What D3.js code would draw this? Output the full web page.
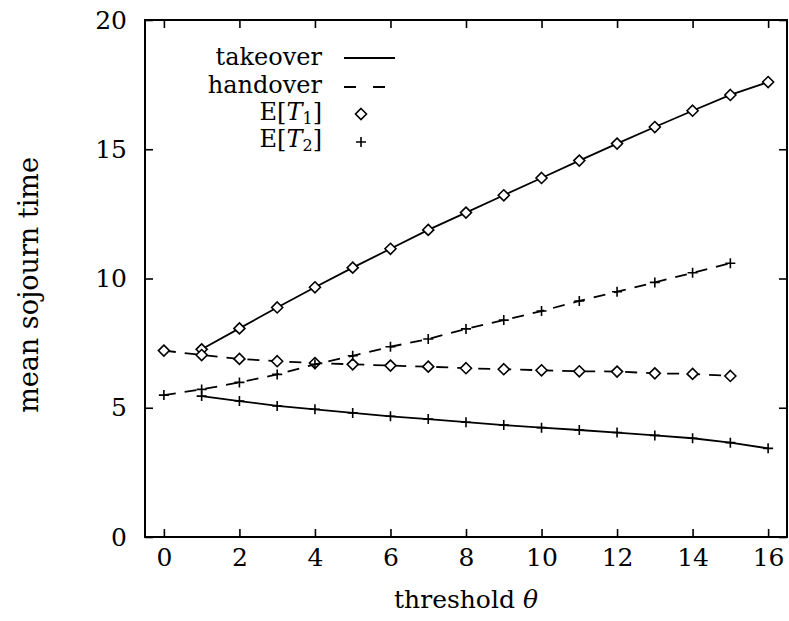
<!DOCTYPE html>
<html>
<head>
<meta charset="utf-8">
<script src="https://cdn.jsdelivr.net/npm/d3@7"></script>
<style>
  body { margin: 0; background: #fff; }
  text { font-family: "DejaVu Serif", "Liberation Serif", serif; fill: #000; }
</style>
</head>
<body>
<svg id="plot"></svg>
<script>
// threshold values
var thetaHandover = [0, 1, 2, 3, 4, 5, 6, 7, 8, 9, 10, 11, 12, 13, 14, 15];
var thetaTakeover = [1, 2, 3, 4, 5, 6, 7, 8, 9, 10, 11, 12, 13, 14, 15, 16];

// mean sojourn times
var takeoverT1 = [7.26, 8.07, 8.88, 9.66, 10.42, 11.15, 11.88, 12.55, 13.22, 13.89, 14.56, 15.22, 15.86, 16.49, 17.10, 17.60];
var takeoverT2 = [5.45, 5.26, 5.07, 4.94, 4.80, 4.67, 4.56, 4.44, 4.33, 4.23, 4.14, 4.04, 3.93, 3.82, 3.65, 3.43];
var handoverT1 = [7.21, 7.04, 6.89, 6.80, 6.73, 6.68, 6.63, 6.59, 6.53, 6.49, 6.45, 6.41, 6.40, 6.33, 6.31, 6.23];
var handoverT2 = [5.49, 5.71, 5.98, 6.29, 6.68, 7.01, 7.36, 7.66, 8.05, 8.39, 8.74, 9.13, 9.49, 9.85, 10.22, 10.59];

var xTicks = [0, 2, 4, 6, 8, 10, 12, 14, 16];
var yTicks = [0, 5, 10, 15, 20];

var W = 789, H = 621;
var margin = {top: 20, right: 2, bottom: 84, left: 145},
  width = W - margin.left - margin.right,
  height = H - margin.top - margin.bottom;

var svg = d3.select("#plot").attr("width", W).attr("height", H);
var g = svg.append("g")
  .attr("transform", "translate(" + margin.left + "," + margin.top + ")");

var x = d3.scaleLinear().domain([-0.5, 16.5]).range([0, width]);
var y = d3.scaleLinear().domain([0, 20]).range([height, 0]);

// axes, ticks pointing inward and mirrored
g.append("g")
  .attr("transform", "translate(0," + height + ")")
  .call(d3.axisBottom(x).tickValues(xTicks).tickSizeInner(-8).tickSizeOuter(0).tickPadding(11));
g.append("g")
  .call(d3.axisTop(x).tickValues(xTicks).tickSizeInner(-8).tickSizeOuter(0).tickFormat(""));
g.append("g")
  .call(d3.axisLeft(y).tickValues(yTicks).tickSizeInner(-8).tickSizeOuter(0).tickPadding(18));
g.append("g")
  .attr("transform", "translate(" + width + ",0)")
  .call(d3.axisRight(y).tickValues(yTicks).tickSizeInner(-8).tickSizeOuter(0).tickFormat(""));

g.selectAll(".domain").remove();
g.selectAll(".tick line").attr("stroke", "#000").attr("stroke-width", 1.6);
g.selectAll(".tick text").attr("font-size", 25).attr("font-family", "DejaVu Serif");

// frame
g.append("rect")
  .attr("width", width).attr("height", height)
  .attr("fill", "none").attr("stroke", "#000").attr("stroke-width", 2);

// axis titles
svg.append("text")
  .attr("x", margin.left + width / 2).attr("y", 608)
  .attr("text-anchor", "middle").attr("font-size", 25)
  .text("threshold ")
  .append("tspan").attr("font-style", "italic").text("θ");

svg.append("text")
  .attr("transform", "translate(38,285) rotate(-90)")
  .attr("text-anchor", "middle").attr("font-size", 27)
  .text("mean sojourn time");

var line = d3.line()
  .x(function(d){ return x(d[0]) })
  .y(function(d){ return y(d[1]) });

function pairs(xs, ys) { return xs.map(function(v, i){ return [v, ys[i]] }) }

var series = [
  {pts: pairs(thetaTakeover, takeoverT1), dash: null, mark: "diamond"},
  {pts: pairs(thetaTakeover, takeoverT2), dash: null, mark: "plus"},
  {pts: pairs(thetaHandover, handoverT1), dash: "12,9", mark: "diamond"},
  {pts: pairs(thetaHandover, handoverT2), dash: "12,9", mark: "plus"}
];

var diamond = "M0,-5.5L5.5,0L0,5.5L-5.5,0Z";
var plus = "M-5,0H5M0,-5V5";

series.forEach(function(s) {
  g.append("path")
    .datum(s.pts)
    .attr("fill", "none").attr("stroke", "#000").attr("stroke-width", 1.8)
    .attr("stroke-dasharray", s.dash)
    .attr("d", line);
  g.selectAll(null)
    .data(s.pts)
    .enter()
    .append("path")
    .attr("transform", function(d){ return "translate(" + x(d[0]) + "," + y(d[1]) + ")" })
    .attr("d", s.mark == "diamond" ? diamond : plus)
    .attr("fill", s.mark == "diamond" ? "#fff" : "none")
    .attr("stroke", "#000").attr("stroke-width", 1.6);
});

// legend
var leg = svg.append("g").attr("font-size", 24);
leg.append("text").attr("x", 322).attr("y", 65).attr("text-anchor", "end").text("takeover");
leg.append("text").attr("x", 322).attr("y", 93).attr("text-anchor", "end").text("handover");
var e1 = leg.append("text").attr("x", 322).attr("y", 120).attr("text-anchor", "end").text("E[");
e1.append("tspan").attr("font-style", "italic").text("T");
e1.append("tspan").attr("font-size", 16).attr("dy", 4).text("1");
e1.append("tspan").attr("dy", -4).text("]");
var e2 = leg.append("text").attr("x", 322).attr("y", 147).attr("text-anchor", "end").text("E[");
e2.append("tspan").attr("font-style", "italic").text("T");
e2.append("tspan").attr("font-size", 16).attr("dy", 4).text("2");
e2.append("tspan").attr("dy", -4).text("]");

leg.append("line").attr("x1", 344).attr("x2", 395).attr("y1", 58).attr("y2", 58)
  .attr("stroke", "#000").attr("stroke-width", 1.8);
leg.append("line").attr("x1", 344).attr("x2", 395).attr("y1", 87).attr("y2", 87)
  .attr("stroke", "#000").attr("stroke-width", 1.8).attr("stroke-dasharray", "12,17");
leg.append("path").attr("transform", "translate(361,114)").attr("d", diamond)
  .attr("fill", "#fff").attr("stroke", "#000").attr("stroke-width", 1.6);
leg.append("path").attr("transform", "translate(361,142)").attr("d", plus)
  .attr("fill", "none").attr("stroke", "#000").attr("stroke-width", 1.6);
</script>
</body>
</html>
